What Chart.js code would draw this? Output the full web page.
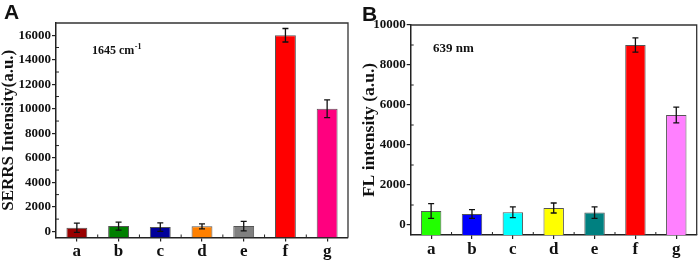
<!DOCTYPE html>
<html><head><meta charset="utf-8">
<script src="https://cdn.jsdelivr.net/npm/chart.js@4/dist/chart.umd.min.js"></script>
<style>
html,body{margin:0;padding:0;background:#fff;}
#wrap{position:relative;width:699px;height:260px;overflow:hidden;}
canvas{position:absolute;top:0;}
</style></head>
<body><div id="wrap"><canvas id="cA" width="352" height="260" style="left:0"></canvas><canvas id="cB" width="347" height="260" style="left:352px"></canvas></div>
<script>
const categories = ['a','b','c','d','e','f','g'];
const serrsValues = [300, 430, 350, 410, 430, 16000, 10000];
const serrsErrors = [380, 330, 350, 200, 390, 550, 720];
const serrsTicks = [0, 2000, 4000, 6000, 8000, 10000, 12000, 14000, 16000];
const serrsColors = ['#990000', '#007f00', '#00009a', '#ff8000', '#808080', '#ff0000', '#ff007f'];
const flValues = [700, 550, 640, 850, 620, 9000, 5500];
const flErrors = [370, 220, 270, 250, 290, 360, 390];
const flTicks = [0, 2000, 4000, 6000, 8000, 10000];
const flColors = ['#22ff00', '#0000ff', '#00ffff', '#ffff00', '#008080', '#ff0000', '#ff80ff'];

const SERIF = "'Liberation Serif', 'Times New Roman', serif";
const SANS = "'Liberation Sans', Arial, sans-serif";

function makeChart(id, o) {
  const decor = {
    id: 'decor',
    afterDatasetsDraw(chart) {
      const ctx = chart.ctx, a = chart.chartArea;
      const x = chart.scales.x, y = chart.scales.y;
      ctx.save();
      // error bars
      ctx.strokeStyle = '#111'; ctx.lineWidth = 1.3;
      o.values.forEach((v, i) => {
        const px = x.getPixelForValue(i);
        const t = y.getPixelForValue(v + o.errors[i]);
        const b = y.getPixelForValue(v - o.errors[i]);
        ctx.beginPath();
        ctx.moveTo(px, t); ctx.lineTo(px, b);
        ctx.moveTo(px - 3, t); ctx.lineTo(px + 3, t);
        ctx.moveTo(px - 3, b); ctx.lineTo(px + 3, b);
        ctx.stroke();
      });
      // frame top and right
      ctx.strokeStyle = '#333'; ctx.lineWidth = 1.3;
      ctx.beginPath();
      ctx.moveTo(a.left, a.top); ctx.lineTo(a.right, a.top); ctx.lineTo(a.right, a.bottom);
      ctx.stroke();
      // minor ticks
      ctx.strokeStyle = '#222'; ctx.lineWidth = 1;
      ctx.beginPath();
      for (let i = 0; i < o.ticks.length; i++) {
        const mv = o.ticks[i] + (o.ticks[1] - o.ticks[0]) / 2;
        const py = y.getPixelForValue(mv);
        if (py < a.top + 1) continue;
        ctx.moveTo(a.left, py); ctx.lineTo(a.left + 3, py);
      }
      for (let i = 0; i < categories.length - 1; i++) {
        const px = (x.getPixelForValue(i) + x.getPixelForValue(i + 1)) / 2;
        ctx.moveTo(px, a.bottom); ctx.lineTo(px, a.bottom - 3);
      }
      ctx.stroke();
      // annotation
      ctx.fillStyle = '#111';
      ctx.textBaseline = 'alphabetic';
      ctx.font = 'bold ' + o.noteSize + 'px ' + SERIF;
      ctx.fillText(o.note, o.noteX, o.noteY);
      if (o.sup) {
        const w = ctx.measureText(o.note).width;
        ctx.font = 'bold 8px ' + SERIF;
        ctx.fillText(o.sup, o.noteX + w + 0.5, o.noteY - 5);
      }
      // panel letter
      ctx.font = 'bold 21px ' + SANS;
      ctx.fillText(o.letter, o.letterX, o.letterY);
      ctx.restore();
    }
  };
  return new Chart(document.getElementById(id), {
    type: 'bar',
    data: {
      labels: categories,
      datasets: [{
        data: o.values,
        base: o.min,
        backgroundColor: o.colors,
        borderColor: '#555',
        borderWidth: 1,
        barPercentage: 0.5,
        categoryPercentage: 1.0
      }]
    },
    options: {
      responsive: false,
      animation: false,
      devicePixelRatio: 1,
      layout: { padding: { top: o.top, right: o.right, left: 0, bottom: 0 } },
      plugins: { legend: { display: false }, tooltip: { enabled: false } },
      scales: {
        x: {
          grid: { offset: false, drawOnChartArea: false, tickLength: 4, color: '#222', lineWidth: 1.2 },
          border: { display: true, color: '#222', width: 1.5 },
          ticks: { color: '#111', font: { family: SERIF, size: 17, weight: 'bold' }, padding: 0 },
          afterFit(s) { s.height = o.xHeight; }
        },
        y: {
          min: o.min, max: o.max,
          afterBuildTicks(s) { s.ticks = o.ticks.map(v => ({ value: v })); },
          grid: { drawOnChartArea: false, tickLength: 4, color: '#222', lineWidth: 1.2 },
          border: { display: true, color: '#222', width: 1.5 },
          ticks: { color: '#111', font: { family: SERIF, size: 13, weight: 'bold' }, padding: 1,
                   callback: (v) => String(v) },
          title: { display: true, text: o.title, color: '#111', padding: { top: o.titlePad, bottom: 0 },
                   font: { family: SERIF, size: o.titleSize, weight: 'bold', lineHeight: 1 } },
          afterFit(s) { s.width = o.yWidth; }
        }
      }
    },
    plugins: [decor]
  });
}

makeChart('cA', {
  values: serrsValues, errors: serrsErrors, ticks: serrsTicks, colors: serrsColors,
  min: -500, max: 17000, top: 23, right: 4, xHeight: 22.5, yWidth: 56,
  title: 'SERRS Intensity(a.u.)', titleSize: 17, titlePad: 0.5,
  note: '1645 cm', sup: '-1', noteSize: 12, noteX: 92, noteY: 54,
  letter: 'A', letterX: 4, letterY: 19
});
makeChart('cB', {
  values: flValues, errors: flErrors, ticks: flTicks, colors: flColors,
  min: -500, max: 10000, top: 25, right: 2.3, xHeight: 25, yWidth: 58.7,
  title: 'FL intensity (a.u.)', titleSize: 17.5, titlePad: 9,
  note: '639 nm', sup: '', noteSize: 13, noteX: 81, noteY: 52,
  letter: 'B', letterX: 10, letterY: 21
});
</script></body></html>
